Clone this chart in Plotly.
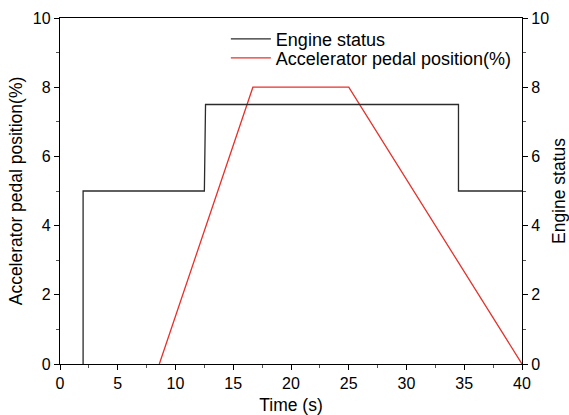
import plotly.graph_objects as go

engine_t = [2.0, 2.0, 12.5, 12.6, 34.5, 34.5, 40.0]
engine_v = [0.0, 5.0, 5.0, 7.5, 7.5, 5.0, 5.0]

pedal_t = [8.6, 16.7, 25.0, 40.0]
pedal_v = [0.0, 8.0, 8.0, 0.0]

FONT = "Liberation Sans, Arial, sans-serif"

fig = go.Figure()
fig.add_trace(go.Scatter(x=engine_t, y=engine_v, mode="lines", name="Engine status",
                         line=dict(color="#2b2b2b", width=1.3), yaxis="y2", legend="legend",
                         showlegend=True))
fig.add_trace(go.Scatter(x=pedal_t, y=pedal_v, mode="lines", name="Accelerator pedal position(%)",
                         line=dict(color="#e8302a", width=1.3), legend="legend2", showlegend=True))

axis_common = dict(showline=True, linecolor="black", linewidth=1.3, ticks="outside",
                   ticklen=5, tickwidth=1.3, tickcolor="black", showgrid=False, zeroline=False,
                   automargin=False,
                   tickfont=dict(size=16, color="black", family=FONT))

leg_common = dict(xanchor="left", yanchor="middle", bgcolor="rgba(0,0,0,0)",
                  font=dict(size=18, family=FONT), itemwidth=40, visible=True)

fig.update_layout(
    width=569, height=415,
    showlegend=True,
    margin=dict(l=60, r=47, t=18, b=51),
    paper_bgcolor="white", plot_bgcolor="white",
    font=dict(family=FONT, color="black"),
    xaxis=dict(range=[0, 40], tickvals=[0, 5, 10, 15, 20, 25, 30, 35, 40], mirror=True,
               minor=dict(dtick=2.5, ticks="outside", ticklen=3, tickcolor="#555"),
               title=dict(text="Time (s)", font=dict(size=17.5, family=FONT), standoff=8),
               **axis_common),
    yaxis=dict(range=[0, 10], tickvals=[0, 2, 4, 6, 8, 10], mirror=True,
               minor=dict(dtick=1, ticks="outside", ticklen=3, tickcolor="#555"),
               title=dict(text="Accelerator pedal position(%)", font=dict(size=17.5, family=FONT), standoff=5),
               **axis_common),
    yaxis2=dict(range=[0, 10], tickvals=[0, 2, 4, 6, 8, 10], overlaying="y", side="right",
                minor=dict(dtick=1, ticks="outside", ticklen=3, tickcolor="#555"),
                title=dict(text="Engine status", font=dict(size=17.5, family=FONT), standoff=8),
                **axis_common),
    legend=dict(x=0.359, y=0.939, **leg_common),
    legend2=dict(x=0.359, y=0.884, **leg_common),
)

fig.write_html("out.html")
